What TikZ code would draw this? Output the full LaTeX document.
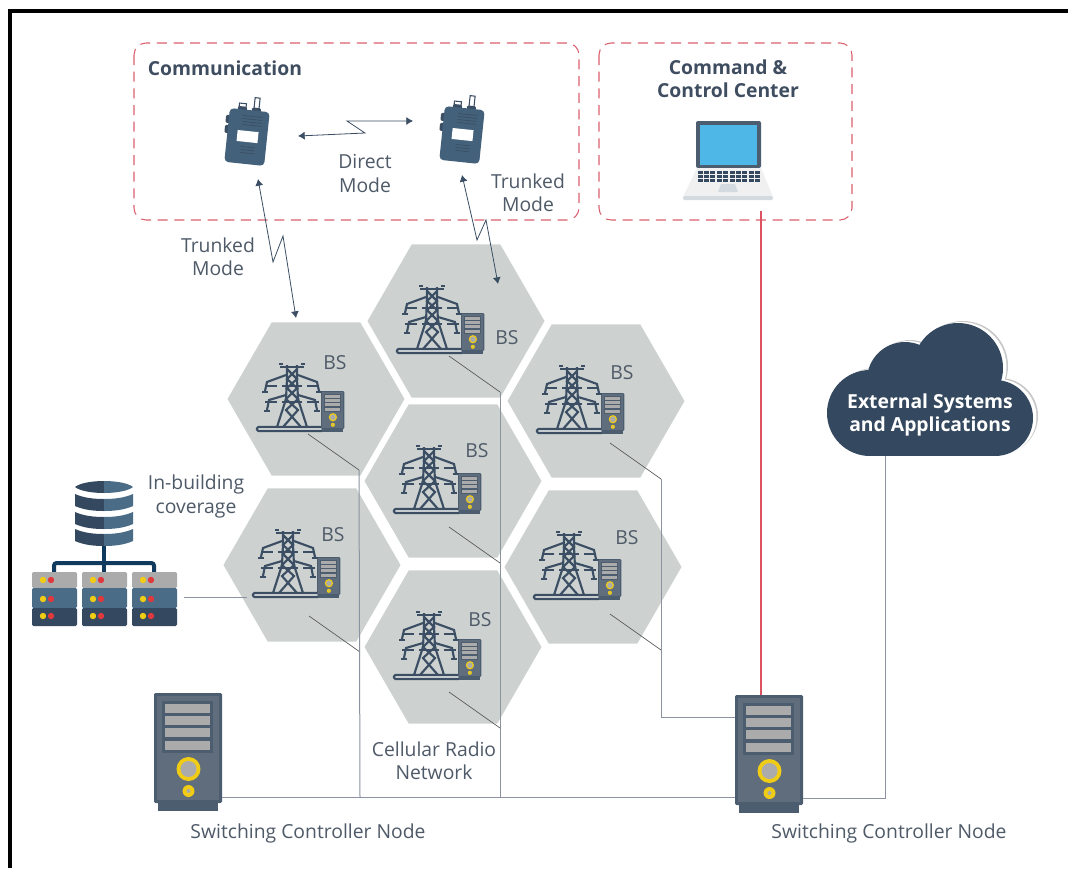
\documentclass[tikz,border=0pt]{standalone}
\usepackage{fontspec}
\setmainfont{Open Sans}
\usetikzlibrary{arrows.meta,shapes.geometric}

\definecolor{inkText}{HTML}{4F5A68}
\definecolor{inkHead}{HTML}{3F4D60}
\definecolor{dashRed}{HTML}{D9606C}
\definecolor{hexGrey}{HTML}{CDD2D1}
\definecolor{towerInk}{HTML}{3B4E63}
\definecolor{navy}{HTML}{34495F}
\definecolor{steel}{HTML}{4A6C87}
\definecolor{caseDark}{HTML}{4D5D70}
\definecolor{caseMid}{HTML}{5F6D7C}
\definecolor{barGrey}{HTML}{ABABAB}
\definecolor{signalYellow}{HTML}{F0CC15}
\definecolor{ledRed}{HTML}{E0383C}
\definecolor{skyScreen}{HTML}{4FB6E8}
\definecolor{stemBlue}{HTML}{103A5E}
\definecolor{wireGrey}{HTML}{8A939E}
\definecolor{wireRed}{HTML}{DD5260}
\definecolor{laptopEdge}{HTML}{D3DBE1}

\tikzstyle{textlabel}=[font=\fontsize{14.5}{17.5}\selectfont, text=inkText, align=center, inner sep=0pt]
\tikzstyle{head}=[font=\fontsize{14.5}{17.5}\selectfont\bfseries, text=inkHead, align=center, inner sep=0pt]
\tikzstyle{zone}=[dashRed, line width=0.8pt, dash pattern=on 7.5pt off 5pt, rounded corners=9pt]
\tikzstyle{hexcell}=[regular polygon, regular polygon sides=6, minimum size=132.75pt, inner sep=0pt, fill=hexGrey]
\tikzstyle{radiolink}=[towerInk, line width=0.6pt, {Latex[length=5pt,width=6pt]}-{Latex[length=5pt,width=6pt]}]
\tikzstyle{tapline}=[black!65, line width=0.5pt]
\tikzstyle{busline}=[wireGrey, line width=0.75pt]
\tikzstyle{redline}=[wireRed, line width=0.8pt]
\tikzstyle{towerline}=[towerInk, line width=1.6pt]

\tikzset{
	% origin: top left corner of the case
	pics/rackserver/.style={code={
		\fill[caseDark, rounded corners=1pt] (0,0) rectangle (68,110);
		\fill[caseMid] (3,3) rectangle (65,107);
		\fill[caseDark] (4,108) rectangle (64,118);
		\fill[caseDark] (8,8) rectangle (59,60);
		\foreach \y in {11,23,35,48}
			\fill[barGrey] (11,\y) rectangle (56,\y+9);
		\fill[signalYellow] (34.5,76) circle (12);
		\fill[barGrey] (34.5,76) circle (8);
		\fill[signalYellow] (34.5,98) circle (6);
		\fill[barGrey] (34.5,98) circle (2);
	}},
	% origin: left end of the ground bar
	pics/pylon/.style={code={
		\draw[towerline, fill=hexGrey!70!white, rounded corners=1pt] (0,-2) rectangle (66,2);
		\draw[towerline] (23,-62) -- (47,-62);
		\foreach \s in {1,-1}
			{
			\begin{scope}[shift={(35,0)}, xscale=\s]
				\draw[towerline] (13,-65) -- (9,-65);
				\draw[towerline] (5,-64) -- (5,-50) -- (6,-30) -- (15,-2);
				\draw[towerline] (-5,-60) -- (5,-50) -- (-5,-41) -- (6,-30) -- (-6,-19) -- (9,-2);
				\draw[towerline] (6,-54) -- (25,-47) -- (27,-38);
				\draw[towerline] (24,-37) -- (30,-37);
				\draw[towerline] (6,-34) -- (23,-29) -- (25,-19);
				\draw[towerline] (22,-18) -- (28,-18);
				\draw[towerline] (0,-43) -- (10,-43);
				\draw[towerline] (15,-43) -- (27,-43);
				\draw[towerline] (0,-27) -- (10,-27);
				\draw[towerline] (15,-27) -- (27,-27);
			\end{scope}
			}
	}},
	% origin: middle of the housing
	pics/handset/.style={code={
		\draw[towerInk, line width=0.8pt, fill=white] (-11,-33) rectangle (-4,-26);
		\draw[towerInk, line width=0.8pt, fill=white] (4,-40) rectangle (9,-26);
		\fill[towerInk, rounded corners=1pt] (-23,-20) rectangle (-17,-12);
		\fill[towerInk, rounded corners=1pt] (-23,-10) rectangle (-17,-2);
		\fill[towerInk, rounded corners=1pt] (-12,-30) rectangle (-3,-25);
		\fill[towerInk, rounded corners=1pt] (2,-30) rectangle (11,-25);
		\fill[steel!70!navy, rounded corners=3pt] (-20,-27) rectangle (20,27);
		\fill[white] (-10,-6) rectangle (11,5);
		\foreach \y in {-21,-18,-15,-12}
			\draw[towerInk, line width=0.5pt] (-6,\y) -- (13,\y);
		\foreach \y in {10,13,16}
			\draw[towerInk, line width=0.5pt] (-5,\y) -- (9,\y);
	}}
}

\newcommand{\cloudlobes}[1]{
	\fill[#1] (870,413) circle (43);
	\fill[#1] (995,418) circle (38);
	\fill[#1] (958,368) circle (45);
	\fill[#1] (905,380) circle (38);
	\fill[#1] (870,395) rectangle (995,456);
}

\begin{document}
\begin{tikzpicture}[x=0.75pt, y=-0.75pt]
	\useasboundingbox (0,0) rectangle (1068,868);
	\fill[white] (0,0) rectangle (1068,868);

	% Rahmen
	\draw[black, line width=3pt] (9.5,868) -- (9.5,11) -- (1068,11);

	% Zonen oben
	\draw[zone] (134,43) rectangle (579,220);
	\draw[zone] (599,43) rectangle (852,220);
	\node(commTitle) at (225,68) [head] {Communication};
	\node(cmdTitle) at (728,78.5) [head] {Command \&\\Control Center};

	% Funkgeraete
	\pic[rotate=-6] at (247,137) {handset};
	\pic[rotate=-6] at (462,135) {handset};
	\node(directLabel) at (365,173.5) [textlabel] {Direct\\Mode};
	\node(trunkLabelA) at (218,257) [textlabel] {Trunked\\Mode};
	\node(trunkLabelB) at (528,192.5) [textlabel] {Trunked\\Mode};

	% Laptop
	\fill[caseDark, rounded corners=1.5pt] (696,121) rectangle (761,168);
	\fill[skyScreen] (700,125) rectangle (757,165);
	\fill[black!6] (697,168) -- (761,168) -- (773,197) -- (683,197) -- cycle;
	\fill[laptopEdge, rounded corners=1pt] (683,196) rectangle (773,200);
	\foreach \row in {0,1,2}
		\foreach \col in {0,...,9}
			\fill[navy] (697.5+\col*6.4,170.5+\row*4.2) rectangle (702.5+\col*6.4,173.7+\row*4.2);
	\fill[laptopEdge] (721,184) -- (735,184) -- (738,192) -- (718,192) -- cycle;

	% Zellen
	\foreach \name/\cx/\cy/\bx/\by/\tx/\ty in {cellA/316/399/335/362/308/434, cellB/456/321/507/337/449/356, cellC/596/401/622/372/610/443, cellD/453/481/477/450/449/527, cellE/312/565/333/534/309/616, cellF/593/567/627/537/610/614, cellG/453/647/480/619/449/692}
		{
			\node(\name) at (\cx,\cy) [hexcell] {};
			\pic at (\cx-59,\cy+30) {pylon};
			\pic[scale=0.345] at (\cx+5,\cy-8) {rackserver};
			\node(\name Text) at (\bx,\by+1) [textlabel] {BS};
			\coordinate (\name Tap) at (\tx,\ty);
			\coordinate (\name Elbow) at (\tx+51,\ty+36);
			\draw[tapline] (\name Tap) -- (\name Elbow);
		}
	\node(cellularLabel) at (434,761) [textlabel] {Cellular Radio\\Network};

	% Datenbank
	\fill[navy] (75,487) .. controls (80,483) and (92,481) .. (104,481) -- (104,493) .. controls (92,493) and (80,491) .. (75,487) -- cycle;
	\fill[steel] (133,487) .. controls (128,483) and (116,481) .. (104,481) -- (104,493) .. controls (116,493) and (128,491) .. (133,487) -- cycle;
	\foreach \t in {494,512,529}
		{
			\fill[navy] (75,\t) .. controls (84,\t+4) and (94,\t+5) .. (104,\t+5) -- (104,\t+17) .. controls (94,\t+17) and (84,\t+16) .. (75,\t+12) -- cycle;
			\fill[steel] (133,\t) .. controls (124,\t+4) and (114,\t+5) .. (104,\t+5) -- (104,\t+17) .. controls (114,\t+17) and (124,\t+16) .. (133,\t+12) -- cycle;
		}
	\coordinate (dbFoot) at (104,546);
	\coordinate (rackTop) at (104,572);
	\draw[stemBlue, line width=3pt] (dbFoot) -- (rackTop);
	\draw[stemBlue, line width=3pt, rounded corners=2pt] (54,572) -- (54,563) -- (154,563) -- (154,572);

	% Racks
	\foreach \x in {32,82,132}
		{
			\fill[barGrey, rounded corners=1pt] (\x,572) rectangle (\x+45,588);
			\fill[steel, rounded corners=1pt] (\x,588) rectangle (\x+45,608);
			\fill[navy, rounded corners=1pt] (\x,608) rectangle (\x+45,626);
			\foreach \y in {580,599,616}
				{
					\fill[signalYellow] (\x+11,\y) circle (3.2);
					\fill[ledRed] (\x+19,\y) circle (3.2);
				}
		}
	\node(coverageLabel) at (196,496.5) [textlabel] {In-building\\coverage};
	\coordinate (rackPort) at (184,597);
	\coordinate (cellEPort) at (247,597);
	\draw[busline] (rackPort) -- (cellEPort);

	% Wolke
	\begin{scope}[shift={(5,-2)}]
		\cloudlobes{black!22}
	\end{scope}
	\begin{scope}[shift={(3.5,-1)}]
		\cloudlobes{white}
	\end{scope}
	\cloudlobes{navy}
	\node(cloudText) at (930,415) [head, text=white] {External Systems\\and Applications};
	\coordinate (cloudFoot) at (885,456);

	% Vermittlung
	\pic at (154,693) {rackserver};
	\pic at (735,695) {rackserver};
	\node(switchLabelA) at (308,833) [textlabel] {Switching Controller Node};
	\node(switchLabelB) at (889,833) [textlabel] {Switching Controller Node};
	\coordinate (switchAPort) at (222,797);
	\coordinate (switchBPort) at (735,797);
	\coordinate (switchBOut) at (803,798);
	\coordinate (switchBTop) at (761,695);
	\coordinate (switchBSide) at (735,717);
	\coordinate (laptopFoot) at (761,211);
	\coordinate (busJoinA) at (360,797);
	\coordinate (busJoinB) at (500,797);

	% Leitungen
	\draw[busline] (cellAElbow) -- (busJoinA);
	\draw[busline] (cellBElbow) -- (busJoinB);
	\draw[busline] (cellCElbow) -- (cellCElbow |- switchBSide) -- (switchBSide);
	\draw[busline] (switchAPort) -- (switchBPort);
	\draw[busline] (switchBOut) -| (cloudFoot);
	\draw[redline] (laptopFoot) -- (switchBTop);

	% Funkstrecken
	\coordinate (directA) at (298,136);
	\coordinate (directB) at (413,121);
	\coordinate (trunkA1) at (258,179);
	\coordinate (trunkA2) at (296,318);
	\coordinate (trunkB1) at (462,175);
	\coordinate (trunkB2) at (498,284);
	\draw[radiolink] (directA) -- (365,133) -- (347,121) -- (directB);
	\draw[radiolink] (trunkA1) -- (273,262) -- (283,236) -- (trunkA2);
	\draw[radiolink] (trunkB1) -- (477,240) -- (486,220) -- (trunkB2);

\end{tikzpicture}
\end{document}
